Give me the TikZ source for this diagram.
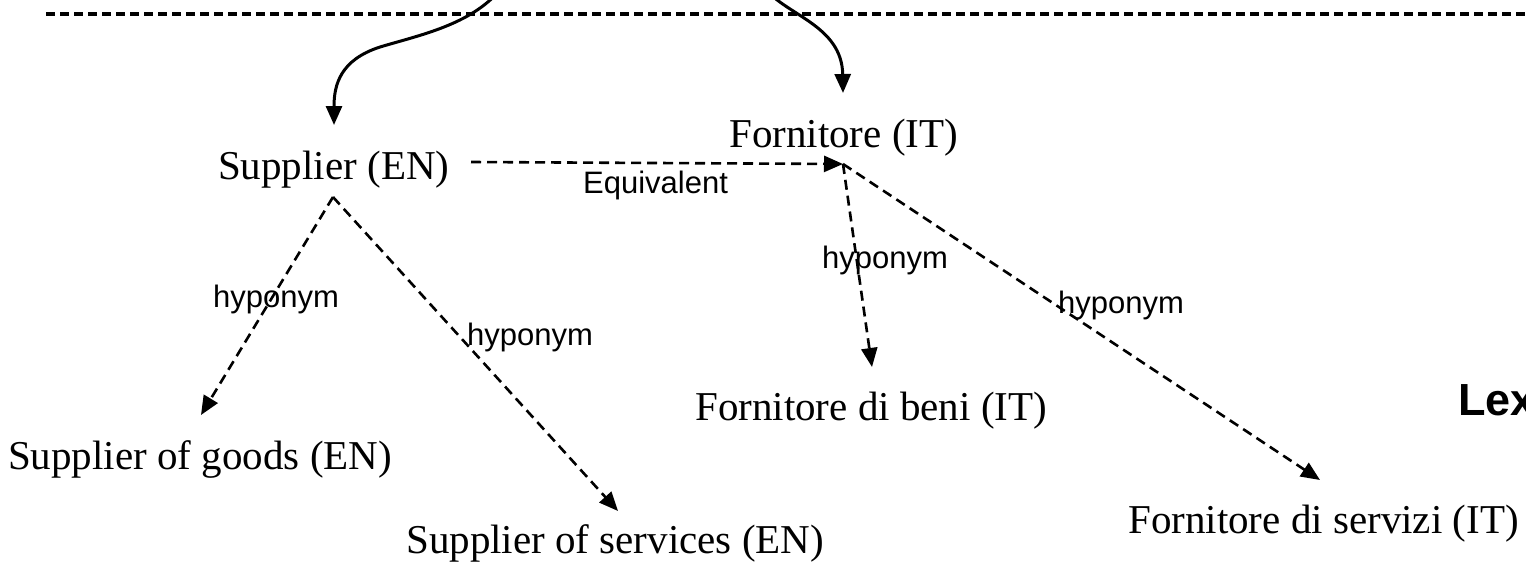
\documentclass[tikz,border=0pt]{standalone}
\usepackage{fontspec}
\setmainfont{Liberation Serif}
\setsansfont{Liberation Sans}
\usetikzlibrary{arrows.meta}
\tikzset{
  term/.style={anchor=base west, inner sep=0pt, font=\fontsize{41}{49}\selectfont},
  rel/.style={anchor=base west, inner sep=0pt, font=\sffamily\fontsize{31}{37}\selectfont},
  title/.style={anchor=base west, inner sep=0pt, font=\sffamily\bfseries\fontsize{45}{54}\selectfont},
  tip/.style={-{Triangle[length=19pt,width=16pt]}},
  dashlink/.style={tip, line width=2.6pt, dash pattern=on 10pt off 6pt},
  solidlink/.style={tip, line width=3pt},
  border/.style={line width=4pt, dash pattern=on 9pt off 5pt}
}
\begin{document}
\begin{tikzpicture}[x=1pt,y=-1pt]
\useasboundingbox (0,0) rectangle (1526,573);
% top dashed line
\coordinate (bl) at (46,13.5);
\coordinate (br) at (1530,13.5);
\draw[border] (bl) -- (br);
% terms
\node[term] (sup) at (218,179) {Supplier (EN)};
\node[term] (forn) at (729,147) {Fornitore (IT)};
\node[term] (goods) at (8,469) {Supplier of goods (EN)};
\node[term] (serv) at (406,553) {Supplier of services (EN)};
\node[term] (beni) at (695,420) {Fornitore di beni (IT)};
\node[term] (servizi) at (1128,533) {Fornitore di servizi (IT)};
\node[title] (lex) at (1458,415) {Lex};
% relation labels
\node[rel] (eq) at (583,193) {Equivalent};
\node[rel] (h1) at (213,307) {hyponym};
\node[rel] (h2) at (467,345) {hyponym};
\node[rel] (h3) at (822,268) {hyponym};
\node[rel] (h4) at (1058,313) {hyponym};
% connection points
\coordinate (supc) at (333,197);
\coordinate (supr) at (471,162);
\coordinate (fornc) at (843,164);
\coordinate (goodsT) at (201,415);
\coordinate (servT) at (618,511);
\coordinate (beniT) at (872,367);
\coordinate (serviziT) at (1320,480);
\coordinate (supTop) at (334,125);
\coordinate (fornTop) at (843,93);
\coordinate (srcL) at (500,-10);
\coordinate (srcR) at (765,-12);
% top curves
\draw[solidlink] (srcL) .. controls (470,25) and (420,35) .. (380,47)
  .. controls (340,60) and (334,85) .. (supTop);
\draw[solidlink] (srcR) .. controls (785,15) and (842,25) .. (fornTop);
% dashed relations
\draw[dashlink] (supr) -- (fornc);
\draw[dashlink] (supc) -- (goodsT);
\draw[dashlink] (supc) -- (servT);
\draw[dashlink] (fornc) -- (beniT);
\draw[dashlink] (fornc) -- (serviziT);
\end{tikzpicture}
\end{document}
